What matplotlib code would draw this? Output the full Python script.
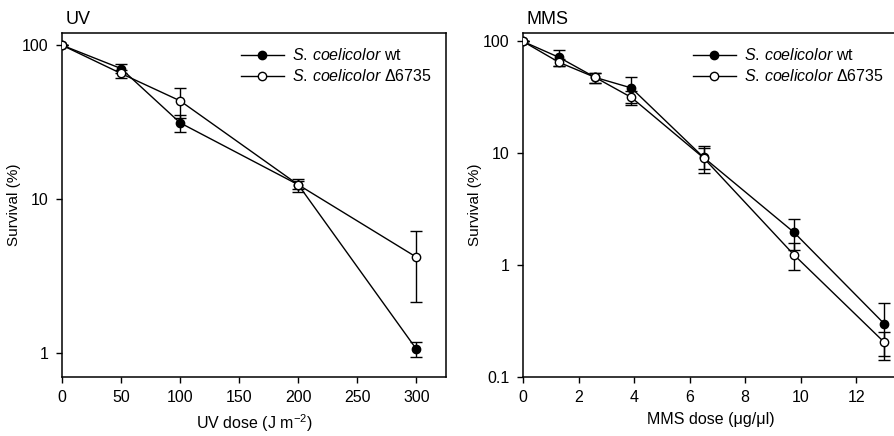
import matplotlib
matplotlib.use("Agg")
import matplotlib.pyplot as plt
from matplotlib.lines import Line2D
from matplotlib.ticker import FixedLocator, FixedFormatter, NullLocator

plt.rcParams['font.family'] = ['Liberation Sans', 'DejaVu Sans']
plt.rcParams['mathtext.fontset'] = 'custom'
plt.rcParams['mathtext.rm'] = 'Liberation Sans'
plt.rcParams['mathtext.it'] = 'Liberation Sans:italic'

# UV panel data
uv_dose = [0, 50, 100, 200, 300]
uv_wt = [100, 70.5, 31.3, 12.4, 1.06]
uv_wt_sd = [0, 4.5, 4.0, 1.2, 0.12]
uv_del = [100, 65.5, 43.5, 12.4, 4.2]
uv_del_sd = [0, 4.0, 9.6, 0.8, 2.05]

# MMS panel data
mms_dose = [0, 1.3, 2.6, 3.9, 6.5, 9.75, 13]
mms_wt = [100, 72, 47.7, 38.4, 9.2, 1.97, 0.30]
mms_wt_sd = [0, 12, 5, 10, 1.9, 0.6, 0.157]
mms_del = [100, 65, 47.7, 31.6, 9.1, 1.24, 0.205]
mms_del_sd = [0, 5, 5, 4.6, 2.5, 0.34, 0.05]

lbl_wt = r'$\it{S.\,coelicolor}$ wt'
lbl_del = r'$\it{S.\,coelicolor}$ Δ6735'

fs = 11.5

fig = plt.figure(figsize=(8.95, 4.36), dpi=100)
ax1 = fig.add_axes([62/895, 1-377/436, (446-62)/895, (377-33)/436])
ax2 = fig.add_axes([523/895, 1-377/436, (898-523)/895, (377-33)/436])


def draw(ax, x, wt, wt_sd, de, de_sd):
    ax.errorbar(x, wt, yerr=wt_sd, color='black', marker='o', ms=6, mfc='black',
                mec='black', lw=1.0, elinewidth=1.0, capsize=4, capthick=1.0,
                zorder=3)
    ax.errorbar(x, de, yerr=de_sd, color='black', marker='o', ms=6, mfc='white',
                mec='black', lw=1.0, elinewidth=1.0, capsize=4, capthick=1.0,
                zorder=4)
    ax.set_yscale('log')
    ax.yaxis.set_minor_locator(NullLocator())
    ax.tick_params(direction='out', length=4.5, width=1, labelsize=fs, pad=5,
                   top=False, right=False)
    for s in ax.spines.values():
        s.set_linewidth(1.1)
    handles = [Line2D([], [], color='black', lw=1.0, marker='o', ms=6, mfc='black'),
               Line2D([], [], color='black', lw=1.0, marker='o', ms=6, mfc='white')]
    ax.legend(handles, [lbl_wt, lbl_del], loc='upper right', frameon=False,
              fontsize=fs, handlelength=2.7, borderaxespad=0.5,
              labelspacing=0.3, handletextpad=0.5)


draw(ax1, uv_dose, uv_wt, uv_wt_sd, uv_del, uv_del_sd)
ax1.set_xlim(0, 325)
ax1.set_ylim(0.7, 120)
ax1.set_xticks([0, 50, 100, 150, 200, 250, 300])
ax1.yaxis.set_major_locator(FixedLocator([1, 10, 100]))
ax1.yaxis.set_major_formatter(FixedFormatter(['1', '10', '100']))
ax1.set_xlabel(r'UV dose (J m$^{-2}$)', fontsize=fs, labelpad=5)
ax1.set_ylabel('Survival (%)', fontsize=fs - 0.5, labelpad=1)
ax1.text(0.01, 1.015, 'UV', transform=ax1.transAxes, fontsize=13, va='bottom')

draw(ax2, mms_dose, mms_wt, mms_wt_sd, mms_del, mms_del_sd)
ax2.set_xlim(0, 13.5)
ax2.set_ylim(0.1, 119)
ax2.set_xticks([0, 2, 4, 6, 8, 10, 12])
ax2.yaxis.set_major_locator(FixedLocator([0.1, 1, 10, 100]))
ax2.yaxis.set_major_formatter(FixedFormatter(['0.1', '1', '10', '100']))
ax2.set_xlabel('MMS dose (μg/μl)', fontsize=fs, labelpad=5)
ax2.set_ylabel('Survival (%)', fontsize=fs - 0.5, labelpad=1)
ax2.text(0.01, 1.015, 'MMS', transform=ax2.transAxes, fontsize=13, va='bottom')

fig.savefig('out.png', dpi=100)
